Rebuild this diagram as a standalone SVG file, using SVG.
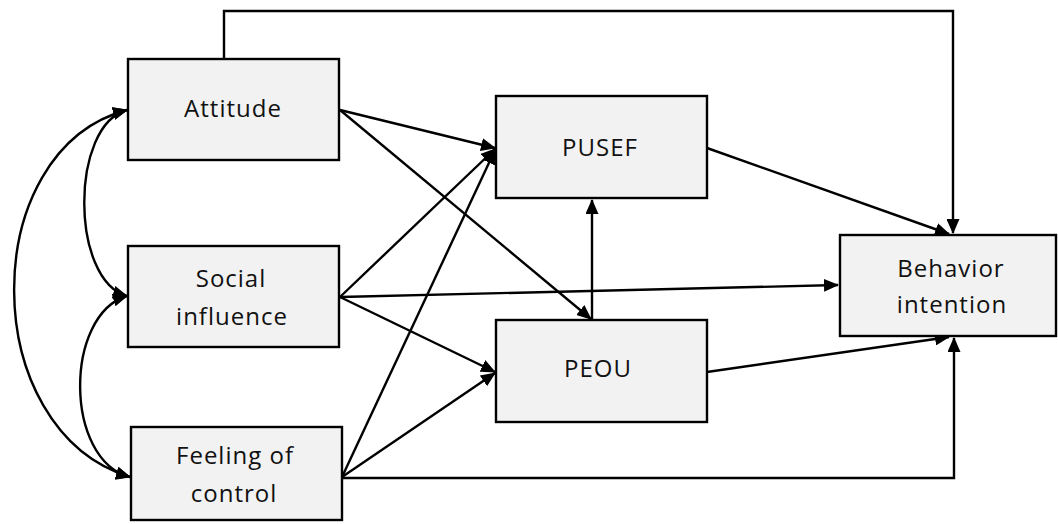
<svg xmlns="http://www.w3.org/2000/svg" width="1058" height="524" viewBox="0 0 1058 524">
<style>
.box{fill:#f2f2f2;stroke:#000;stroke-width:2.4}
.t{font-family:"Open Sans","Liberation Sans",sans-serif;font-size:24px;letter-spacing:1px;fill:#111;text-anchor:middle}
.c{fill:none;stroke:#000;stroke-width:2.4}
</style>
<defs>
<marker id="ah" markerUnits="userSpaceOnUse" markerWidth="15" markerHeight="13" refX="14" refY="6.5" orient="auto-start-reverse" viewBox="0 0 15 13">
<path d="M0,0 L15,6.5 L0,13 z" fill="#000"/>
</marker>
</defs>
<rect width="1058" height="524" fill="#fff"/>
<g id="connectors">
<path class="c" d="M224,59 V11 H953 V233" marker-end="url(#ah)"/>
<path class="c" d="M342,478 H954 V338" marker-end="url(#ah)"/>
<path class="c" d="M340,110 L495,148" marker-end="url(#ah)"/>
<path class="c" d="M340,110 L591,319" marker-end="url(#ah)"/>
<path class="c" d="M340,297 L495,149" marker-end="url(#ah)"/>
<path class="c" d="M340,297 L495,372" marker-end="url(#ah)"/>
<path class="c" d="M340,297 L838,285" marker-end="url(#ah)"/>
<path class="c" d="M342,477 L495,150" marker-end="url(#ah)"/>
<path class="c" d="M342,477 L495,373" marker-end="url(#ah)"/>
<path class="c" d="M592,320 V200" marker-end="url(#ah)"/>
<path class="c" d="M707,148 L949,234" marker-end="url(#ah)"/>
<path class="c" d="M707,372 L949,337" marker-end="url(#ah)"/>
<path class="c" d="M127,110 C70,125 70,280 127,296" marker-start="url(#ah)" marker-end="url(#ah)"/>
<path class="c" d="M127,296 C64,315 64,460 130,477" marker-start="url(#ah)" marker-end="url(#ah)"/>
<path class="c" d="M127,110 C-24,150 -24,430 130,477" marker-start="url(#ah)" marker-end="url(#ah)"/>
</g>
<g id="attitude">
<rect class="box" x="128" y="59" width="211" height="101"/>
<text class="t" x="233" y="117">Attitude</text>
</g>
<g id="social">
<rect class="box" x="128" y="246" width="211" height="101"/>
<text class="t" x="231" y="287">Social</text>
<text class="t" x="232" y="325">influence</text>
</g>
<g id="feeling">
<rect class="box" x="131" y="427" width="211" height="93"/>
<text class="t" x="235" y="464">Feeling of</text>
<text class="t" x="234" y="502">control</text>
</g>
<g id="pusef">
<rect class="box" x="496" y="96" width="211" height="102"/>
<text class="t" x="600" y="156">PUSEF</text>
</g>
<g id="peou">
<rect class="box" x="496" y="320" width="211" height="102"/>
<text class="t" x="598" y="377">PEOU</text>
</g>
<g id="behavior">
<rect class="box" x="840" y="235" width="216" height="101"/>
<text class="t" x="951" y="277">Behavior</text>
<text class="t" x="952" y="313">intention</text>
</g>
</svg>
